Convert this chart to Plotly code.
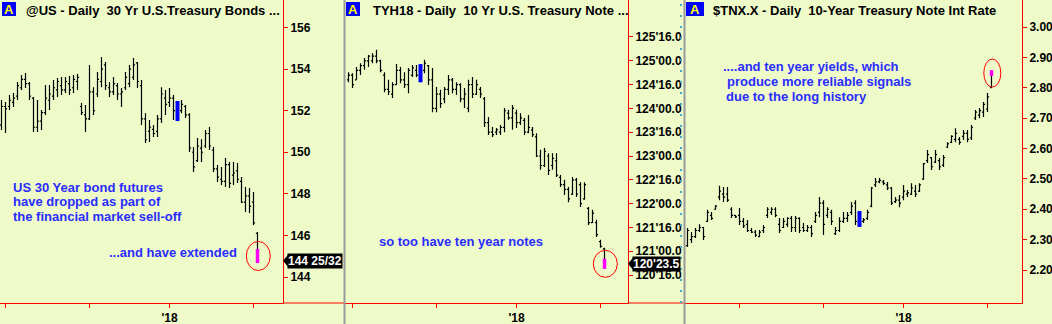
import plotly.graph_objects as go

W, H = 1052, 324
BG = "#EEFBC9"
RED = "#FF0000"
BLUE_TXT = "#2B2BFF"
FONT = "Arial, Liberation Sans, sans-serif"

# ---------------- data ----------------
us_high = [152.51,152.41,152.75,152.85,153.38,153.71,153.81,153.38,152.65,152.51,
           152.03,153.23,153.23,153.47,153.57,153.62,153.62,153.66,153.71,153.76,
           152.37,152.27,154.19,153.13,153.86,154.58,154.34,153.38,153.62,153.33,
           153.09,153.86,154.19,154.53,154.34,153.47,151.88,151.55,151.31,151.79,
           153.13,152.99,153.09,152.75,152.46,152.51,152.27,151.88,150.25,150.68,
           150.63,151.07,151.21,150.25,149.38,149.29,149.72,149.53,149.53,149.48,
           148.81,148.33,148.28,148.09,146.16]
us_low = [151.07,150.92,152.03,152.17,152.51,152.99,153.09,152.51,150.97,150.97,
          151.07,151.79,152.03,152.51,152.65,152.75,152.85,152.75,152.85,152.99,
          151.79,150.97,151.55,151.79,152.65,153.13,152.99,152.65,152.75,152.51,
          152.17,152.99,153.13,153.47,153.09,151.31,150.44,150.49,150.73,150.73,
          151.40,151.79,152.17,151.55,151.50,151.88,151.64,150.01,149.05,149.53,
          149.53,150.20,150.11,149.05,148.57,148.42,148.33,148.28,148.42,148.52,
          147.56,147.13,147.08,146.50,144.67]
us_open = [151.3,152.2,152.2,152.4,152.7,153.1,153.5,153.3,152.6,151.2,
           151.5,151.9,152.5,152.7,153.0,153.2,153.0,153.3,153.1,153.4,
           152.2,151.8,151.6,152.9,152.8,153.4,154.2,153.1,152.9,153.2,
           152.8,153.1,153.3,153.6,154.3,153.2,151.6,151.0,151.1,151.0,
           151.6,152.6,152.4,152.6,152.4,152.0,152.2,151.8,150.0,149.6,
           150.2,150.3,150.9,150.1,149.2,148.7,148.6,149.4,148.9,149.1,
           148.6,147.6,147.9,147.6,146.1]
us_close = [152.2,152.1,152.5,152.6,153.2,153.5,153.3,152.7,151.2,151.5,
            151.9,152.6,152.8,153.1,153.4,153.0,153.4,153.0,153.5,153.6,
            151.9,151.6,152.9,152.0,153.5,154.0,153.2,152.9,153.3,152.8,
            152.9,153.6,154.0,154.2,153.4,151.6,150.6,151.2,150.9,151.6,
            152.8,152.3,152.6,152.0,151.6,152.3,151.8,150.2,149.3,150.3,
            150.0,150.9,150.3,149.2,148.8,148.6,149.4,148.5,149.0,148.7,
            147.6,147.9,147.4,146.6,144.78125]

ty_high = [124.76,124.74,124.87,124.95,125.06,125.12,125.16,125.23,125.02,124.76,
           124.60,124.55,124.93,124.87,124.76,124.85,124.91,124.91,124.93,125.02,
           124.91,124.85,124.45,124.39,124.45,124.70,124.64,124.55,124.53,124.43,
           124.60,124.66,124.60,124.45,124.24,123.82,123.61,123.59,123.65,124.01,
           123.97,124.07,123.97,123.90,123.80,123.86,123.61,123.48,123.13,123.17,
           123.06,123.06,123.06,122.60,122.50,122.35,122.56,122.54,122.45,122.45,
           121.93,121.87,121.66,121.24,121.07]
ty_low = [124.55,124.43,124.60,124.70,124.81,124.87,124.95,124.95,124.76,124.34,
          124.28,124.22,124.49,124.53,124.43,124.32,124.66,124.66,124.55,124.74,
          124.49,123.92,123.92,124.01,124.11,124.28,124.32,124.28,124.13,124.01,
          123.92,124.22,124.28,124.22,123.61,123.44,123.40,123.44,123.44,123.50,
          123.76,123.55,123.59,123.65,123.44,123.48,123.40,122.98,122.71,122.77,
          122.60,122.71,122.56,122.35,122.18,122.03,122.18,122.14,121.93,122.08,
          121.55,121.59,121.30,121.07,120.63]
ty_open = [124.6,124.7,124.6,124.8,124.9,125.0,125.0,125.1,125.0,124.7,
           124.4,124.3,124.5,124.8,124.6,124.5,124.7,124.8,124.7,124.8,
           124.9,124.6,124.0,124.3,124.2,124.4,124.6,124.4,124.5,124.2,
           124.0,124.5,124.3,124.4,124.2,123.7,123.5,123.5,123.5,123.6,
           123.9,123.8,123.9,123.7,123.75,123.5,123.55,123.4,123.0,122.8,
           123.0,122.8,122.9,122.55,122.4,122.3,122.2,122.5,122.4,122.1,
           121.9,121.6,121.6,121.2,121.05]
ty_close = [124.7,124.5,124.8,124.9,125.0,125.1,125.1,125.0,124.8,124.4,
            124.35,124.5,124.8,124.6,124.5,124.8,124.85,124.7,124.9,124.95,
            124.6,124.0,124.3,124.1,124.4,124.6,124.4,124.5,124.2,124.3,
            124.5,124.3,124.5,124.3,123.7,123.5,123.45,123.55,123.6,123.95,
            123.8,124.0,123.7,123.8,123.5,123.6,123.45,123.0,122.8,123.1,
            122.7,122.95,122.6,122.4,122.3,122.1,122.5,122.2,122.0,122.4,
            121.6,121.8,121.35,121.1,120.734375]

tnx_high = [2.338,2.325,2.338,2.351,2.342,2.398,2.391,2.414,2.477,2.473,
            2.473,2.407,2.381,2.404,2.371,2.365,2.338,2.332,2.332,2.348,
            2.407,2.407,2.407,2.371,2.371,2.374,2.378,2.378,2.374,2.355,
            2.348,2.348,2.391,2.440,2.430,2.407,2.398,2.342,2.374,2.391,
            2.391,2.424,2.430,2.394,2.371,2.398,2.473,2.503,2.503,2.496,
            2.490,2.473,2.440,2.447,2.480,2.463,2.486,2.480,2.486,2.552,
            2.595,2.572,2.595,2.569,2.579,2.621,2.644,2.667,2.638,2.661,
            2.661,2.677,2.727,2.733,2.753,2.783,2.858]
tnx_low = [2.276,2.289,2.305,2.325,2.299,2.358,2.365,2.398,2.430,2.424,
           2.424,2.371,2.371,2.348,2.338,2.325,2.322,2.309,2.309,2.322,
           2.371,2.381,2.374,2.322,2.338,2.342,2.325,2.325,2.322,2.325,
           2.325,2.309,2.355,2.374,2.315,2.371,2.348,2.315,2.325,2.355,
           2.358,2.381,2.348,2.342,2.355,2.365,2.407,2.473,2.486,2.480,
           2.463,2.414,2.421,2.407,2.430,2.440,2.447,2.440,2.457,2.496,
           2.552,2.529,2.552,2.529,2.539,2.602,2.618,2.621,2.612,2.628,
           2.621,2.628,2.694,2.700,2.704,2.720,2.799]
tnx_open = [2.28,2.30,2.31,2.33,2.34,2.36,2.38,2.40,2.44,2.45,
            2.45,2.40,2.38,2.38,2.36,2.35,2.33,2.325,2.31,2.33,
            2.38,2.39,2.40,2.35,2.34,2.35,2.37,2.34,2.37,2.34,
            2.33,2.34,2.36,2.39,2.42,2.38,2.39,2.32,2.33,2.36,
            2.37,2.39,2.42,2.39,2.36,2.37,2.41,2.48,2.49,2.49,
            2.48,2.47,2.425,2.43,2.44,2.45,2.45,2.46,2.46,2.50,
            2.56,2.57,2.555,2.56,2.545,2.605,2.62,2.63,2.63,2.64,
            2.65,2.635,2.70,2.71,2.72,2.73,2.80]
tnx_close = [2.33,2.31,2.33,2.34,2.31,2.39,2.37,2.41,2.46,2.44,
             2.43,2.38,2.375,2.36,2.345,2.33,2.325,2.315,2.325,2.34,
             2.40,2.40,2.38,2.33,2.36,2.37,2.34,2.37,2.33,2.33,
             2.34,2.32,2.38,2.42,2.35,2.40,2.36,2.33,2.36,2.37,
             2.38,2.41,2.36,2.35,2.365,2.39,2.47,2.49,2.495,2.485,
             2.47,2.42,2.43,2.42,2.46,2.455,2.47,2.45,2.48,2.55,
             2.58,2.54,2.58,2.54,2.57,2.615,2.64,2.65,2.62,2.65,
             2.63,2.67,2.72,2.725,2.745,2.77,2.85]

# signal bars (blue) and last-bar highlight (magenta)
us_blue_idx, ty_blue_idx, tnx_blue_idx = 44, 18, 43
us_last_mark = [145.35, 144.67]
ty_last_mark = [120.84, 120.63]
tnx_last_mark = [2.858, 2.839]

# month-start ticks (bar index) and labels
us_month_ticks = [1, 22, 42, 63]
ty_month_ticks = [1, 22, 42, 63]
tnx_month_ticks = [13, 34, 54, 75]
month_labels = ["", "", "'18", ""]

us_yticks = [144, 146, 148, 150, 152, 154, 156]
us_ytext = ["144", "146", "148", "150", "152", "154", "156"]
ty_yticks = [120.5, 121.0, 121.5, 122.0, 122.5, 123.0, 123.5, 124.0, 124.5, 125.0, 125.5]
ty_ytext = ["120'16.0", "121'00.0", "121'16.0", "122'00.0", "122'16.0", "123'00.0",
            "123'16.0", "124'00.0", "124'16.0", "125'00.0", "125'16.0"]
tnx_yticks = [2.2, 2.3, 2.4, 2.5, 2.6, 2.7, 2.8, 2.9, 3.0]
tnx_ytext = ["2.20", "2.30", "2.40", "2.50", "2.60", "2.70", "2.80", "2.90", "3.00"]

titles = ["@US - Daily\u00a0 30 Yr U.S.Treasury Bonds ...",
          "TYH18 - Daily\u00a0 10 Yr U.S. Treasury Note ...",
          "$TNX.X - Daily\u00a0 10-Year Treasury Note Int Rate"]
price_labels = ["144 25/32", "120'23.5", None]

# ---------------- layout geometry (pixels) ----------------
AX_BOTTOM = 303
panels = [
    dict(left=0, right=283, xr=[-0.375, 70.375], yr=[142.75, 157.32], hi=us_high, lo=us_low,
         op=us_open, cl=us_close, blue=us_blue_idx, mark=us_last_mark, mt=us_month_ticks,
         yt=us_yticks, ytt=us_ytext, ell=(24, 29), abox=(2, 16), tx=25, div=345),
    dict(left=345, right=628, xr=[-0.875, 69.875], yr=[119.912, 126.277], hi=ty_high, lo=ty_low,
         op=ty_open, cl=ty_close, blue=ty_blue_idx, mark=ty_last_mark, mt=ty_month_ticks,
         yt=ty_yticks, ytt=ty_ytext, ell=(24, 27), abox=(346, 360), tx=372, div=685),
    dict(left=685, right=1022, xr=[-0.625, 83.625], yr=[2.0914, 3.0889], hi=tnx_high, lo=tnx_low,
         op=tnx_open, cl=tnx_close, blue=tnx_blue_idx, mark=tnx_last_mark, mt=tnx_month_ticks,
         yt=tnx_yticks, ytt=tnx_ytext, ell=(17, 28), abox=(686, 704), tx=712, div=None),
]

def pxx(p):
    return p / W

def pxy(p):
    return 1 - p / H

fig = go.Figure()
shapes = []
annotations = []
layout_axes = {}

for k, p in enumerate(panels):
    n = k + 1
    xa = "x" if n == 1 else f"x{n}"
    ya = "y" if n == 1 else f"y{n}"
    idx = list(range(len(p["hi"])))
    fig.add_trace(go.Ohlc(
        x=idx, open=p["op"], high=p["hi"], low=p["lo"], close=p["cl"],
        increasing=dict(line=dict(color="black", width=1.2)),
        decreasing=dict(line=dict(color="black", width=1.2)),
        tickwidth=0.4, xaxis=xa, yaxis=ya, hoverinfo="skip", showlegend=False))
    b = p["blue"]
    fig.add_trace(go.Scatter(x=[b, b], y=[p["lo"][b], p["hi"][b]], mode="lines",
                             line=dict(color="#0000FF", width=4), xaxis=xa, yaxis=ya,
                             hoverinfo="skip", showlegend=False))
    last = idx[-1]
    fig.add_trace(go.Scatter(x=[last, last], y=p["mark"], mode="lines",
                             line=dict(color="#FF00FF", width=3.5), xaxis=xa, yaxis=ya,
                             hoverinfo="skip", showlegend=False))

    xdom = [pxx(p["left"]), pxx(p["right"])]
    ydom = [pxy(AX_BOTTOM), 1.0]
    axkw = dict(showline=True, linecolor=RED, linewidth=1, ticks="outside", ticklen=4,
                tickcolor=RED, showgrid=False, zeroline=False, fixedrange=True,
                tickfont=dict(family=FONT, size=12, color="black", weight="bold"))
    layout_axes["xaxis" if n == 1 else f"xaxis{n}"] = dict(
        domain=xdom, range=p["xr"], anchor=ya, tickmode="array", tickvals=p["mt"],
        ticktext=month_labels, rangeslider=dict(visible=False), **axkw)
    layout_axes["yaxis" if n == 1 else f"yaxis{n}"] = dict(
        domain=ydom, range=p["yr"], anchor=xa, side="right", tickmode="array",
        tickvals=p["yt"], ticktext=p["ytt"], **axkw)

    # pixel -> data scale
    xpp = (p["xr"][1] - p["xr"][0]) / (p["right"] - p["left"])
    ypp = (p["yr"][1] - p["yr"][0]) / AX_BOTTOM

    # ellipse around last bar
    cy = (p["mark"][0] + p["mark"][1]) / 2
    ew, eh = p["ell"]
    shapes.append(dict(type="circle", xref=xa, yref=ya,
                       x0=last - ew / 2 * xpp + 0.2, x1=last + ew / 2 * xpp + 0.2,
                       y0=cy - eh / 2 * ypp, y1=cy + eh / 2 * ypp,
                       line=dict(color=RED, width=1)))

    # header: "A" box and title
    a0, a1 = p["abox"]
    shapes.append(dict(type="rect", xref="paper", yref="paper", x0=pxx(a0), x1=pxx(a1),
                       y0=pxy(16), y1=pxy(2), fillcolor="#0000FF", line=dict(width=0),
                       layer="above"))
    annotations.append(dict(x=pxx((a0 + a1) / 2), y=pxy(9.5), xref="paper", yref="paper",
                            text="<b>A</b>", showarrow=False, xanchor="center", yanchor="middle",
                            font=dict(family=FONT, size=13, color="#FFFF00")))
    annotations.append(dict(x=pxx(p["tx"] - 1), y=pxy(10), xref="paper", yref="paper",
                            text=titles[k], showarrow=False, xanchor="left", yanchor="middle",
                            font=dict(family=FONT, size=13, color="black", weight="bold")))

    # price label with arrow (sits just over the close, as in the reference)
    if price_labels[k]:
        yc = p["cl"][-1]
        annotations.append(dict(x=pxx(p["right"] + 4), y=yc, xref="paper", yref=ya,
                                text=f"<b>{price_labels[k]}</b>", showarrow=False,
                                xanchor="left", yanchor="middle", bgcolor="black",
                                borderpad=0, font=dict(family=FONT, size=12, color="white")))
        dy = 6 * ypp
        shapes.append(dict(type="path", xref="paper", yref=ya,
                           path=f"M {pxx(p['right'])},{yc} L {pxx(p['right'] + 5)},{yc + dy} "
                                f"L {pxx(p['right'] + 5)},{yc - dy} Z",
                           fillcolor="black", line=dict(width=0)))

    # bottom axis line extends to divider
    if p["div"]:
        shapes.append(dict(type="line", xref="paper", yref="paper", x0=pxx(p["right"]),
                           x1=pxx(p["div"] - 1), y0=pxy(AX_BOTTOM), y1=pxy(AX_BOTTOM),
                           line=dict(color=RED, width=1)))
        # gray divider
        shapes.append(dict(type="line", xref="paper", yref="paper", x0=pxx(p["div"] - 0.5),
                           x1=pxx(p["div"] - 0.5), y0=0, y1=1,
                           line=dict(color="#9A9A9A", width=2)))

# dotted cyan marks at left edge of third panel
shapes.append(dict(type="line", xref="paper", yref="paper", x0=pxx(681), x1=pxx(681),
                   y0=pxy(AX_BOTTOM), y1=1, line=dict(color="#44AACC", width=2, dash="2px,9px")))

# blue commentary
notes = [
    ("US 30 Year bond futures", 12, 187),
    ("have dropped as part of", 12, 201.5),
    ("the financial market sell-off", 12, 216),
    ("...and have extended", 108, 252),
    ("so too have ten year notes", 378, 241),
    ("....and ten year yields, which", 722, 66),
    ("produce more reliable signals", 726, 81),
    ("due to the long history", 725, 96),
]
for txt, x, y in notes:
    annotations.append(dict(x=pxx(x - 1), y=pxy(y), xref="paper", yref="paper", text=txt,
                            showarrow=False, xanchor="left", yanchor="middle",
                            font=dict(family=FONT, size=13, color=BLUE_TXT, weight="bold")))

fig.update_layout(width=W, height=H, margin=dict(l=0, r=0, t=0, b=0),
                  paper_bgcolor=BG, plot_bgcolor=BG, showlegend=False,
                  shapes=shapes, annotations=annotations, **layout_axes)

fig.write_html("out.html", config={"displayModeBar": False})
